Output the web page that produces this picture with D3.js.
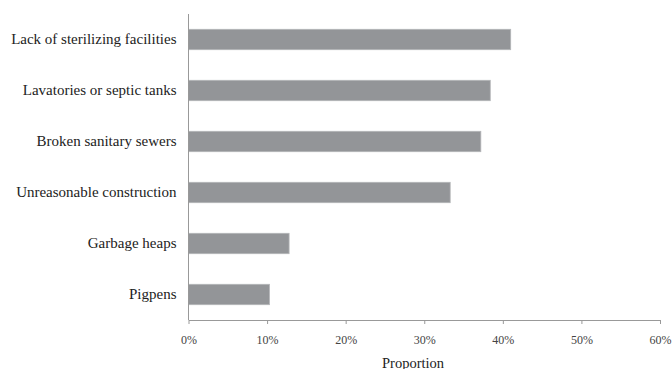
<!DOCTYPE html>
<html><head><meta charset="utf-8">
<script src="https://cdn.jsdelivr.net/npm/d3@7"></script>
<style>body{margin:0;background:#fff}svg{display:block}</style>
</head><body>
<svg id="c" width="672" height="369"></svg>
<script>
const categories = ["Lack of sterilizing facilities","Lavatories or septic tanks","Broken sanitary sewers","Unreasonable construction","Garbage heaps","Pigpens"];
const values = [0.410, 0.384, 0.372, 0.333, 0.128, 0.103];
const xTicks = [0,0.1,0.2,0.3,0.4,0.5,0.6];
const xTitle = "Proportion";

(function(){
const svg = d3.select("#c");
const mLeft = 188.5, mRight = 660, mTop = 14, mBottom = 320;
const x = d3.scaleLinear().domain([0,0.6]).range([mLeft,mRight]);
const y = d3.scaleBand().domain(categories).range([mTop,mBottom]).paddingInner(0.6).paddingOuter(0.3);
const font = "'Liberation Serif','Times New Roman',serif";

svg.append("g").selectAll("rect").data(categories).join("rect")
  .attr("x", x(0)).attr("y", d=>y(d))
  .attr("width", (d,i)=>x(values[i])-x(0)).attr("height", y.bandwidth())
  .attr("fill","#939598").attr("stroke","#b4b5b8").attr("stroke-width",0.8);

const xa = svg.append("g").attr("transform",`translate(0,${mBottom})`)
  .call(d3.axisBottom(x).tickValues(xTicks).tickFormat(d3.format(".0%")).tickSizeOuter(0).tickSizeInner(4).tickPadding(11));
xa.select(".domain").attr("stroke","#999");
xa.selectAll(".tick line").attr("stroke","#999");
xa.selectAll("text").attr("font-family",font).attr("font-size",12).attr("fill","#444");

const ya = svg.append("g").attr("transform",`translate(${mLeft},0)`)
  .call(d3.axisLeft(y).tickSize(0).tickPadding(12));
ya.select(".domain").attr("stroke","#999").attr("d",`M0,${mTop}V${mBottom}`);
ya.selectAll("text").attr("font-family",font).attr("font-size",15).attr("fill","#222");

svg.append("text").attr("x",413).attr("y",368).attr("text-anchor","middle")
  .attr("font-family",font).attr("font-size",14.5).attr("fill","#222").text(xTitle);
})();
</script>
</body></html>
